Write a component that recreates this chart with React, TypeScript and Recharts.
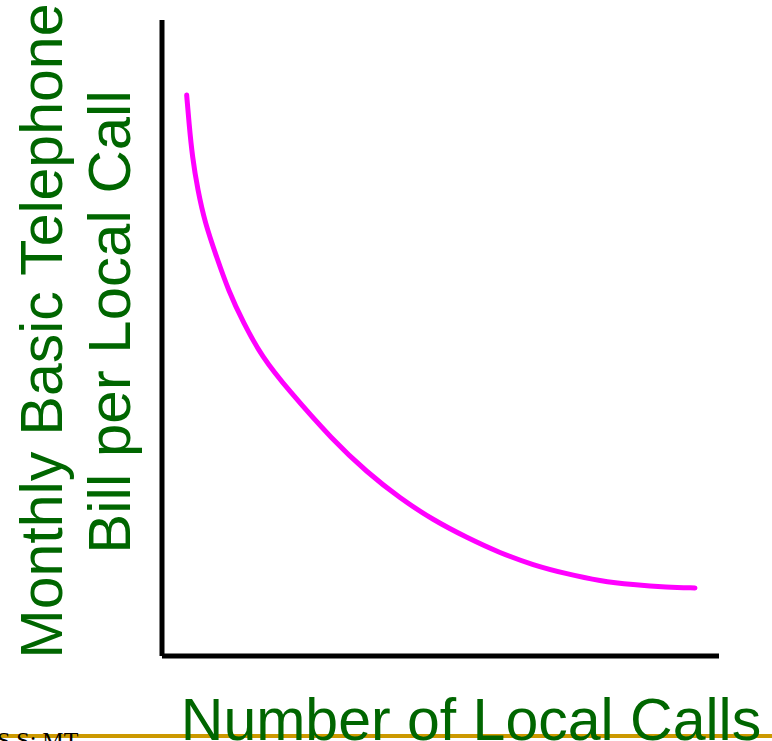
import { LineChart, Line, XAxis, YAxis, ReferenceLine } from "recharts";

// number of local calls (0-100 scale) and bill per local call (0-100 scale)
const calls = [
    4.43, 4.85, 5.44, 6.41, 7.72, 9.82, 11.9, 14.6, 17.9, 22.6, 30.7,
    36.8, 42.73, 48.65, 54.76, 60.68, 66.61, 72.71, 78.64, 84.56, 90.66, 95.69,
];
const billPerCall = [
    88.2, 83.8, 78.5, 73.3, 68.1, 62.7, 57.5, 52.4, 47.1, 41.9, 33.9,
    28.9, 24.8, 21.4, 18.6, 16.2, 14.3, 12.9, 11.8, 11.2, 10.8, 10.7,
];

const xTitle = "Number of Local Calls";
const yTitleLines = ["Monthly Basic Telephone", "Bill per Local Call"];
const footerText = "S S: MT";

const data = calls.map((c, i) => ({ calls: c, bill: billPerCall[i] }));

const GREEN = "#006600";
const FONT = "'Liberation Sans', Arial, sans-serif";

export default function App() {
    return (
        <div style={{ position: "absolute", left: 0, top: 0, width: 772, height: 741, background: "#fff", overflow: "hidden" }}>
            <LineChart
                width={772}
                height={741}
                data={data}
                margin={{ top: 20, right: 53, left: 162, bottom: 85 }}
            >
                <XAxis dataKey="calls" type="number" domain={[0, 100]} allowDataOverflow hide />
                <YAxis type="number" domain={[0, 100]} allowDataOverflow hide />
                <ReferenceLine x={0} stroke="#000" strokeWidth={5} />
                <ReferenceLine y={0} stroke="#000" strokeWidth={5} />
                <Line
                    type="basis"
                    dataKey="bill"
                    stroke="#FF00FF"
                    strokeWidth={5}
                    strokeLinecap="round"
                    dot={false}
                    isAnimationActive={false}
                />
            </LineChart>
            <svg width={772} height={741} style={{ position: "absolute", left: 0, top: 0, pointerEvents: "none" }}>
                <line x1={0} y1={736} x2={772} y2={736} stroke="#CC9900" strokeWidth={4} />
                <text x={-3} y={748} fontFamily="'Liberation Serif', 'Times New Roman', serif" fontSize={24} fill="#000">
                    {footerText}
                </text>
                <text x={471} y={740} textAnchor="middle" fontFamily={FONT} fontSize={59} fill={GREEN}>
                    {xTitle}
                </text>
                <text transform="rotate(-90)" x={-331} y={62} textAnchor="middle" fontFamily={FONT} fontSize={59} fill={GREEN}>
                    {yTitleLines[0]}
                </text>
                <text transform="rotate(-90)" x={-322} y={130} textAnchor="middle" fontFamily={FONT} fontSize={60} fill={GREEN}>
                    {yTitleLines[1]}
                </text>
            </svg>
        </div>
    );
}
